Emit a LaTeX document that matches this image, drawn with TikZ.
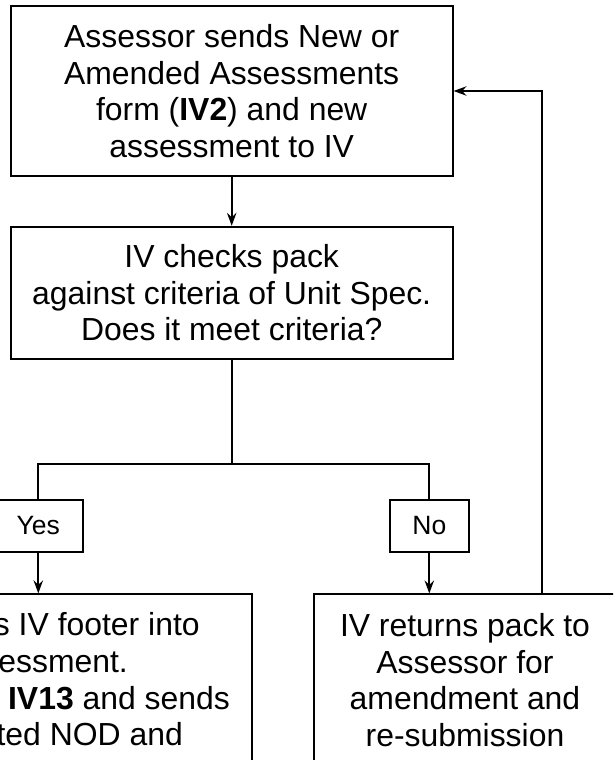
\documentclass[tikz,border=0pt]{standalone}
\usepackage{fontspec}
\setmainfont{Liberation Sans}
\usetikzlibrary{arrows.meta}
\begin{document}
\begin{tikzpicture}[x=1pt,y=-1pt,
  box/.style={draw, line width=1.8pt, rectangle, align=center, inner sep=0pt,
    font=\fontsize{31.9}{36.7}\selectfont},
  tag/.style={draw, line width=1.8pt, rectangle, inner sep=0pt,
    font=\fontsize{26.5}{30}\selectfont},
  conn/.style={line width=1.7pt},
  arr/.style={conn, -{Stealth[length=13pt,width=9.5pt,inset=4.5pt]}}]
\useasboundingbox (0,0) rectangle (613,760);
\clip (0,0) rectangle (613,760);

\node[box, minimum width=442pt, minimum height=170pt] (n1) at (231.7,91)
  {Assessor sends New or\\Amended Assessments\\form (\textbf{IV2}) and new\\assessment to IV};
\node[box, minimum width=442pt, minimum height=132pt] (n2) at (231.7,292.7)
  {IV checks pack\\against criteria of Unit Spec.\\Does it meet criteria?};
\node[tag, minimum width=89.4pt, minimum height=51.7pt] (yes) at (38.3,525.8) {Yes};
\node[tag, minimum width=78.7pt, minimum height=51.7pt] (no) at (429.3,525.8) {No};
\node[box, minimum width=428pt, minimum height=206.7pt] (n3) at (38.3,697.6)
  {IV inserts IV footer into\\assessment.\\Completes \textbf{IV13} and sends\\completed NOD and\\assessment to Assessor};
\node[box, minimum width=302.6pt, minimum height=171.4pt] (n4) at (465,680)
  {IV returns pack to\\Assessor for\\amendment and\\re-submission};

\coordinate (split) at (231.7,463.7);
\coordinate (ret) at (541.7,91);

\draw[arr] (n1.south) -- (n2.north);
\draw[conn] (n2.south) -- (split);
\draw[conn] (split) -| (yes.north);
\draw[conn] (split) -| (no.north);
\draw[arr] (yes.south) -- (n3.north);
\draw[arr] (no.south) -- (no.south |- n4.north);
\draw[arr] (n4.north -| ret) -- (ret) -- (n1.east);
\end{tikzpicture}
\end{document}
